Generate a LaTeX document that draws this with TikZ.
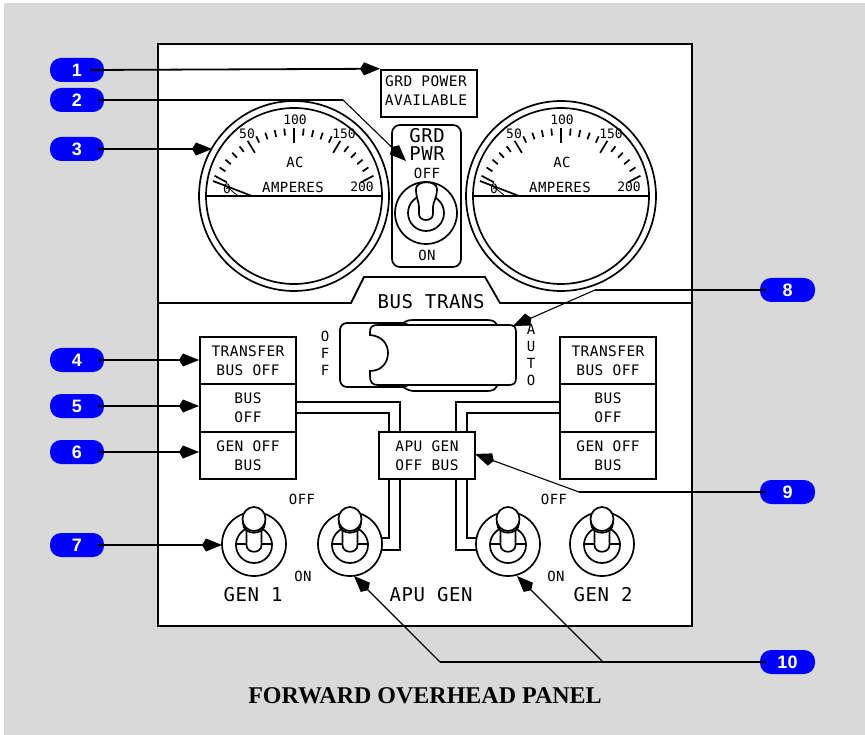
\documentclass[tikz,border=0pt]{standalone}
\usepackage{fontspec}
\setmainfont{Liberation Sans}
\newfontfamily\titlefont{Liberation Serif}
\newfontfamily\panelfont[LetterSpace=3]{DejaVu Sans Mono}
\newfontfamily\dialfont{DejaVu Sans Mono}
\usetikzlibrary{arrows.meta}
\definecolor{mback}{HTML}{D9D9D9}
\definecolor{mtag}{HTML}{0000FF}
\tikzset{
  tagbox/.style={fill=mtag, text=white, rounded corners=11pt, minimum width=54pt,
                 minimum height=24pt, inner sep=0pt, font=\bfseries\fontsize{18}{20}\selectfont},
  lampbox/.style={draw=black, fill=white, line width=2pt, minimum width=96pt, minimum height=47.5pt,
                  inner sep=0pt, align=center, font=\panelfont\fontsize{14.5}{19}\selectfont},
  smalltext/.style={inner sep=0pt, align=center, font=\panelfont\fontsize{14}{17}\selectfont},
  dialtext/.style={inner sep=0pt, font=\dialfont\fontsize{13}{14}\selectfont},
  bigtext/.style={inner sep=0pt, align=center, font=\panelfont\fontsize{19}{18}\selectfont},
  gauge/.style={draw=black, fill=white, circle, line width=1.7pt, inner sep=0pt},
  leader/.style={-{Kite[length=20pt,width=13pt,inset=4pt]}, line width=1.8pt, black},
  slant/.style={-{Kite[length=20pt,width=13pt,inset=4pt]}, line width=1.1pt, black},
  run/.style={line width=1.8pt, black},
  wire/.style={line width=2pt, black},
  part/.style={line width=1.7pt, black},
}
\begin{document}
\begin{tikzpicture}[x=1pt,y=-1pt]
  \useasboundingbox (0,0) rectangle (865,735);
  \fill[white] (0,0) rectangle (865,735);
  \fill[mback] (4,3) rectangle (865,735);
  \draw[line width=2.6pt, fill=white] (158,44) rectangle (692,626);

  % gauges
  \foreach \gx/\gname in {294/gaugeL,561/gaugeR}{
    \node[gauge, minimum size=190pt] (\gname) at (\gx,196) {};
    \node[gauge, minimum size=176pt] (\gname-in) at (\gx,196) {};
    \draw[wire] (\gname-in.west) -- (\gname-in.east);
    \foreach \i in {0,...,20}{
      \pgfmathsetmacro{\ang}{152-6.2*\i}
      \pgfmathsetmacro{\tlen}{ifthenelse(\i==10,15,ifthenelse(mod(\i,5)==0,14,7))}
      \draw[part] ({\gx+90*cos(\ang)},{218-90*sin(\ang)}) -- ({\gx+(90-\tlen)*cos(\ang)},{218-(90-\tlen)*sin(\ang)});
    }
    \node[dialtext] (\gname-100) at (\gx+1,120) {100};
    \node[dialtext] (\gname-50) at (\gx-47,134) {50};
    \node[dialtext] (\gname-150) at (\gx+50,134) {150};
    \node[dialtext] (\gname-0) at (\gx-67,189) {0};
    \node[dialtext] (\gname-200) at (\gx+68,187) {200};
    \node[smalltext] (\gname-ac) at (\gx+1,162) {AC};
    \node[smalltext] (\gname-amp) at (\gx-1,187) {AMPERES};
    \draw[part] (\gx-81,181) -- (\gx-42,196);
    \draw[line width=0.8pt] (\gx-68,186) -- (\gx-56,196);
  }

  % ground power
  \node[lampbox] (grdlamp) at (429,93.5) {};
  \node[lampbox, draw=none, fill=none] (grdtext) at (426,90.5) {GRD POWER\\AVAILABLE};
  \node[draw=black, line width=1.7pt, fill=white, rounded corners=8pt, minimum width=69pt,
        minimum height=142pt, inner sep=0pt] (grdbox) at (426.5,196) {};
  \node[bigtext] (grdname) at (427,144) {GRD\\PWR};
  \node[smalltext] (grdoff) at (427,173) {OFF};
  \node[smalltext] (grdon) at (427,255) {ON};
  \node[gauge, minimum size=62pt] (grdsw) at (426,213) {};
  \node[gauge, minimum size=36pt] (grdin) at (426,213) {};
  \draw[part, fill=white] (416,189) .. controls (416,180) and (437,180) .. (437,189)
    .. controls (437,198) and (433,202) .. (433,207) -- (433,214)
    .. controls (433,222) and (419,222) .. (419,214) -- (419,207)
    .. controls (419,202) and (416,198) .. (416,189) -- cycle;

  % bus transfer
  \draw[line width=1.8pt] (158,303) -- (351,303) -- (364,277) -- (485,277) -- (500,303) -- (692,303);
  \node[bigtext] (busname) at (431,302) {BUS TRANS};
  \node[smalltext] (offlabel) at (325,353) {O\\F\\F};
  \node[smalltext] (autolabel) at (531,355) {A\\U\\T\\O};
  \draw[part, fill=white] (403,323) .. controls (408,320) and (410,320) .. (413,320) -- (487,320)
    .. controls (492,320) and (495,321) .. (497,325) -- (497,386)
    .. controls (495,390) and (492,391) .. (487,391) -- (413,391)
    .. controls (410,391) and (408,390) .. (403,387) -- cycle;
  \draw[part, fill=white, rounded corners=7pt] (340,323) -- (410,323) -- (410,387) -- (340,387) -- cycle;
  \draw[part, fill=white] (378,325) -- (509,325) .. controls (514,325) and (516,327) .. (516,332)
    -- (516,378) .. controls (516,383) and (514,385) .. (509,385) -- (378,385)
    .. controls (372,385) and (370,382) .. (370,376) -- (370,371)
    .. controls (382,371) and (388,362) .. (388,353) .. controls (388,344) and (382,336) .. (370,335)
    -- (370,332) .. controls (370,327) and (372,325) .. (378,325) -- cycle;

  % lamps
  \node[lampbox] (xferL) at (248,360.5) {TRANSFER\\BUS OFF};
  \node[lampbox] (busL) at (248,408) {BUS\\OFF};
  \node[lampbox] (genL) at (248,455.5) {GEN OFF\\BUS};
  \node[lampbox] (xferR) at (608,360.5) {TRANSFER\\BUS OFF};
  \node[lampbox] (busR) at (608,408) {BUS\\OFF};
  \node[lampbox] (genR) at (608,455.5) {GEN OFF\\BUS};
  \node[lampbox] (apulamp) at (427,455.5) {APU GEN\\OFF BUS};

  % switches
  \foreach \cx/\sname in {254/swA,350/swB,508/swC,602/swD}{
    \node[gauge, minimum size=64pt] (\sname) at (\cx,544) {};
    \node[gauge, minimum size=36pt] (\sname-in) at (\cx,545) {};
    \draw[part] (\sname-in.west |- \sname) -- (\sname-in.east |- \sname);
    \draw[part, fill=white] (\cx-7.5,525) -- (\cx-7.5,545) .. controls (\cx-7.5,554) and (\cx+7.5,554) .. (\cx+7.5,545) -- (\cx+7.5,525);
    \draw[part, fill=white] (\cx-11,523) .. controls (\cx-11,536) and (\cx+11,536) .. (\cx+11,523) -- cycle;
    \draw[part, fill=white] (\cx,519) ellipse (11.5 and 12);
  }
  \node[bigtext] (genone) at (253,595) {GEN 1};
  \node[bigtext] (apugen) at (431,595) {APU GEN};
  \node[bigtext] (gentwo) at (603,595) {GEN 2};
  \node[smalltext] (offA) at (302,499) {OFF};
  \node[smalltext] (onA) at (303,576) {ON};
  \node[smalltext] (offB) at (554,499) {OFF};
  \node[smalltext] (onB) at (556,576) {ON};

  % wiring
  \draw[wire] (296,402) -- (400,402) -- (400,431);
  \draw[wire] (296,413) -- (389,413) -- (389,431);
  \draw[wire] (389,479) -- (389,538) -- (381,538);
  \draw[wire] (400,479) -- (400,550) -- (381,550);
  \draw[wire] (560,402) -- (456,402) -- (456,431);
  \draw[wire] (560,413) -- (467,413) -- (467,431);
  \draw[wire] (467,479) -- (467,538) -- (477,538);
  \draw[wire] (456,479) -- (456,550) -- (477,550);

  % tags
  \foreach \num/\ty in {1/70,2/100,3/149,4/360,5/406,6/452,7/545}{
    \node[tagbox] (tag\num) at (77,\ty) {\num};
  }
  \foreach \num/\ty in {8/290,9/492,10/662}{
    \node[tagbox, minimum width=55pt] (tag\num) at (787.5,\ty) {\num};
  }
  \coordinate (bend2) at (343,100);
  \coordinate (bend8) at (595,290);
  \coordinate (bend9) at (579,492);
  \coordinate (bend10a) at (440,662);
  \coordinate (bend10b) at (603,662);
  \coordinate (tip2) at (406,161);
  \coordinate (tip3) at (212,149);
  \coordinate (tip7) at (222,545);
  \coordinate (tip8) at (513,326);
  \coordinate (tip9) at (475,454);
  \coordinate (tip10a) at (354,576);
  \coordinate (tip10b) at (517,576);

  \draw[leader] ([xshift=-14pt]tag1.east) -- (grdlamp.north west);
  \draw[run] ([xshift=-6pt]tag2.east) -- (bend2);
  \draw[slant] (bend2) -- (tip2);
  \draw[leader] ([xshift=-6pt]tag3.east) -- (tip3);
  \draw[leader] ([xshift=-6pt]tag4.east) -- (xferL.west |- tag4);
  \draw[leader] ([xshift=-6pt]tag5.east) -- (busL.west |- tag5);
  \draw[leader] ([xshift=-6pt]tag6.east) -- (genL.west |- tag6);
  \draw[leader] ([xshift=-6pt]tag7.east) -- (tip7);
  \draw[run] ([xshift=6pt]tag8.west) -- (bend8);
  \draw[slant] (bend8) -- (tip8);
  \draw[run] ([xshift=6pt]tag9.west) -- (bend9);
  \draw[slant] (bend9) -- (tip9);
  \draw[run] ([xshift=6pt]tag10.west) -- (bend10a);
  \draw[slant] (bend10a) -- (tip10a);
  \draw[slant] (bend10b) -- (tip10b);

  \node[inner sep=0pt, font=\titlefont\bfseries\fontsize{24}{26}\selectfont] (paneltitle) at (425,696) {FORWARD OVERHEAD PANEL};
\end{tikzpicture}
\end{document}
